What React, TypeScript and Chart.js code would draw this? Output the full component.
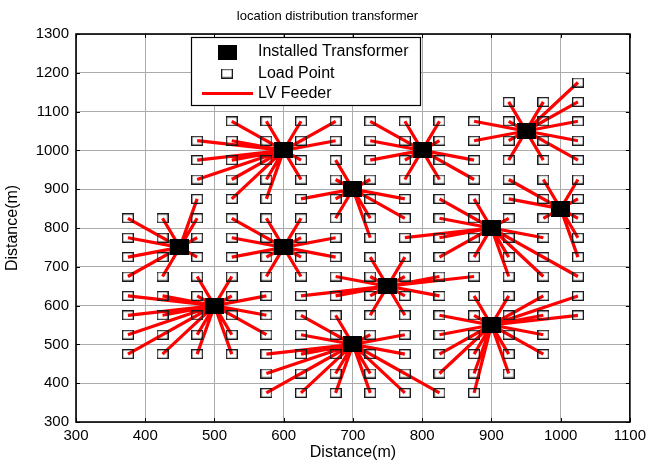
import React, { useEffect, useRef } from 'react';
import { Chart, registerables } from 'chart.js';

Chart.register(...registerables);

const TITLE = 'location distribution transformer';
const X_LABEL = 'Distance(m)';
const Y_LABEL = 'Distance(m)';
const X_TICKS = [300, 400, 500, 600, 700, 800, 900, 1000, 1100];
const Y_TICKS = [300, 400, 500, 600, 700, 800, 900, 1000, 1100, 1200, 1300];
const LEGEND_LABELS = ['Installed Transformer', 'Load Point', 'LV Feeder'];

const transformerX = [450, 500, 600, 600, 700, 700, 750, 800, 900, 900, 950, 1000];
const transformerY = [750, 600, 1000, 750, 900, 500, 650, 1000, 800, 550, 1050, 850];

// load points fed by each transformer (same order as transformerX / transformerY)
const loadsT1 = [[475, 875], [375, 825], [425, 825], [475, 825], [375, 775], [425, 775], [475, 775], [375, 725], [425, 725], [475, 725], [375, 675], [425, 675]];
const loadsT2 = [[475, 675], [525, 675], [375, 625], [425, 625], [475, 625], [525, 625], [575, 625], [375, 575], [425, 575], [475, 575], [525, 575], [575, 575], [375, 525], [425, 525], [475, 525], [525, 525], [575, 525], [375, 475], [425, 475], [475, 475], [525, 475]];
const loadsT3 = [[525, 1075], [575, 1075], [625, 1075], [675, 1075], [475, 1025], [525, 1025], [575, 1025], [625, 1025], [675, 1025], [475, 975], [525, 975], [575, 975], [625, 975], [475, 925], [525, 925], [575, 925], [625, 925], [525, 875], [575, 875]];
const loadsT4 = [[525, 825], [575, 825], [625, 825], [525, 775], [575, 775], [625, 775], [675, 775], [525, 725], [575, 725], [625, 725], [675, 725], [575, 675], [625, 675]];
const loadsT5 = [[675, 975], [675, 925], [725, 925], [625, 875], [675, 875], [725, 875], [775, 875], [675, 825], [725, 825], [775, 825], [725, 775]];
const loadsT6 = [[625, 575], [675, 575], [625, 525], [675, 525], [725, 525], [775, 525], [575, 475], [625, 475], [675, 475], [725, 475], [775, 475], [575, 425], [625, 425], [675, 425], [725, 425], [775, 425], [575, 375], [625, 375], [675, 375], [725, 375], [775, 375], [825, 375]];
const loadsT7 = [[725, 725], [775, 725], [675, 675], [725, 675], [775, 675], [825, 675], [875, 675], [625, 625], [675, 625], [725, 625], [775, 625], [825, 625], [725, 575], [775, 575]];
const loadsT8 = [[725, 1075], [775, 1075], [825, 1075], [725, 1025], [775, 1025], [825, 1025], [725, 975], [775, 975], [825, 975], [875, 975], [775, 925], [825, 925], [875, 925]];
const loadsT9 = [[825, 875], [875, 875], [825, 825], [875, 825], [925, 825], [775, 775], [825, 775], [875, 775], [925, 775], [975, 775], [825, 725], [875, 725], [925, 725], [975, 725], [925, 675], [975, 675], [1025, 675]];
const loadsT10 = [[875, 625], [925, 625], [975, 625], [1025, 625], [825, 575], [875, 575], [925, 575], [975, 575], [1025, 575], [825, 525], [875, 525], [925, 525], [975, 525], [825, 475], [875, 475], [925, 475], [975, 475], [825, 425], [875, 425], [925, 425], [875, 375]];
const loadsT11 = [[1025, 1175], [925, 1125], [975, 1125], [1025, 1125], [875, 1075], [925, 1075], [975, 1075], [1025, 1075], [875, 1025], [925, 1025], [975, 1025], [1025, 1025], [925, 975], [975, 975], [1025, 975]];
const loadsT12 = [[925, 925], [975, 925], [1025, 925], [925, 875], [975, 875], [1025, 875], [975, 825], [1025, 825], [1025, 775], [1025, 725]];

const FEEDERS = [loadsT1, loadsT2, loadsT3, loadsT4, loadsT5, loadsT6, loadsT7, loadsT8, loadsT9, loadsT10, loadsT11, loadsT12];

const FONT = "'Liberation Sans', Arial, Helvetica, sans-serif";
const RED = '#ff0000';

function makeTransformerMarker(w: number, h: number) {
  const c = document.createElement('canvas');
  c.width = w;
  c.height = h;
  const g = c.getContext('2d')!;
  g.fillStyle = '#000';
  g.fillRect(0, 0, w, h);
  return c;
}

function makeLoadMarker(w: number, h: number) {
  const c = document.createElement('canvas');
  c.width = w;
  c.height = h;
  const g = c.getContext('2d')!;
  g.strokeStyle = '#1a1a1a';
  g.lineWidth = 1.3;
  g.strokeRect(0.65, 0.65, w - 1.3, h - 1.3);
  return c;
}

export default function App() {
  const ref = useRef<HTMLCanvasElement | null>(null);

  useEffect(() => {
    if (!ref.current) return;
    const tMarker = makeTransformerMarker(19, 16);
    const lMarker = makeLoadMarker(12, 10);
    const legendTMarker = makeTransformerMarker(19, 15);

    const transformers = transformerX.map((x, i) => ({ x, y: transformerY[i] }));
    const loads = FEEDERS.flat().map(([x, y]) => ({ x, y }));

    const feederSets = FEEDERS.map((list, i) => {
      const data: { x: number; y: number }[] = [];
      list.forEach(([x, y]) => {
        data.push({ x: transformerX[i], y: transformerY[i] });
        data.push({ x, y });
      });
      return {
        label: 'LV Feeder ' + (i + 1),
        data,
        showLine: true,
        borderColor: RED,
        backgroundColor: RED,
        borderWidth: 3.2,
        pointRadius: 0,
        pointHoverRadius: 0,
        order: 2,
      };
    });

    const frame = {
      id: 'frame',
      afterDraw(chart: any) {
        const { ctx, chartArea: a, scales } = chart;
        ctx.save();
        // title (centred on the whole figure)
        ctx.fillStyle = '#000';
        ctx.font = `13px ${FONT}`;
        ctx.textAlign = 'center';
        ctx.textBaseline = 'middle';
        ctx.fillText(TITLE, 327.5, 16.5);

        ctx.strokeStyle = '#000';
        ctx.lineWidth = 1;
        const tl = 4;
        X_TICKS.forEach((v) => {
          const p = Math.round(scales.x.getPixelForValue(v)) + 0.5;
          ctx.beginPath();
          ctx.moveTo(p, a.bottom);
          ctx.lineTo(p, a.bottom - tl);
          ctx.moveTo(p, a.top);
          ctx.lineTo(p, a.top + tl);
          ctx.stroke();
        });
        Y_TICKS.forEach((v) => {
          const p = Math.round(scales.y.getPixelForValue(v)) + 0.5;
          ctx.beginPath();
          ctx.moveTo(a.left, p);
          ctx.lineTo(a.left + tl, p);
          ctx.moveTo(a.right, p);
          ctx.lineTo(a.right - tl, p);
          ctx.stroke();
        });
        ctx.lineWidth = 1.6;
        ctx.strokeRect(a.left, a.top, a.right - a.left, a.bottom - a.top);

        // legend
        const lx = 191.5, ly = 37.5, lw = 229, lh = 68;
        ctx.fillStyle = '#fff';
        ctx.fillRect(lx, ly, lw, lh);
        ctx.lineWidth = 1.2;
        ctx.strokeStyle = '#000';
        ctx.strokeRect(lx, ly, lw, lh);
        const rows = [52, 73.5, 93.5];
        ctx.drawImage(legendTMarker, 227 - 9.5, rows[0] - 7.5);
        ctx.drawImage(lMarker, 227 - 6, rows[1] - 5);
        ctx.strokeStyle = RED;
        ctx.lineWidth = 3.2;
        ctx.beginPath();
        ctx.moveTo(202, rows[2]);
        ctx.lineTo(253, rows[2]);
        ctx.stroke();
        ctx.fillStyle = '#000';
        ctx.font = `16px ${FONT}`;
        ctx.textAlign = 'left';
        ctx.textBaseline = 'middle';
        LEGEND_LABELS.forEach((t, i) => ctx.fillText(t, 258, rows[i]));
        ctx.restore();
      },
    };

    const chart = new Chart(ref.current, {
      type: 'scatter',
      data: {
        datasets: [
          {
            label: LEGEND_LABELS[0],
            data: transformers,
            pointStyle: tMarker as any,
            pointRadius: 10,
            pointHoverRadius: 10,
            order: 0,
          },
          {
            label: LEGEND_LABELS[1],
            data: loads,
            pointStyle: lMarker as any,
            pointRadius: 6,
            pointHoverRadius: 6,
            order: 1,
          },
          ...feederSets,
        ] as any,
      },
      options: {
        responsive: false,
        animation: false,
        events: [],
        layout: { padding: { left: 0, right: 19, top: 34, bottom: 0 } },
        plugins: {
          legend: { display: false },
          tooltip: { enabled: false },
          title: { display: false },
        },
        scales: {
          x: {
            type: 'linear',
            min: 300,
            max: 1100,
            afterFit: (s: any) => {
              s.height = 40;
            },
            afterBuildTicks: (s: any) => {
              s.ticks = X_TICKS.map((v) => ({ value: v }));
            },
            ticks: {
              color: '#000',
              font: { family: FONT, size: 15 },
              padding: 5,
              maxRotation: 0,
              autoSkip: false,
              callback: (v: any) => String(v),
            },
            grid: { color: '#ababab', lineWidth: 1, drawTicks: false },
            border: { display: false },
            title: {
              display: true,
              text: X_LABEL,
              color: '#000',
              font: { family: FONT, size: 16 },
              padding: { top: 0, bottom: 0 },
            },
          },
          y: {
            type: 'linear',
            min: 300,
            max: 1300,
            afterFit: (s: any) => {
              s.width = 76;
            },
            afterBuildTicks: (s: any) => {
              s.ticks = Y_TICKS.map((v) => ({ value: v }));
            },
            ticks: {
              color: '#000',
              font: { family: FONT, size: 15 },
              padding: 7,
              autoSkip: false,
              callback: (v: any) => String(v),
            },
            grid: { color: '#ababab', lineWidth: 1, drawTicks: false },
            border: { display: false },
            title: {
              display: true,
              text: Y_LABEL,
              color: '#000',
              font: { family: FONT, size: 16 },
              padding: { top: 3, bottom: 0 },
            },
          },
        },
      },
      plugins: [frame],
    });
    return () => chart.destroy();
  }, []);

  return (
    <div style={{ position: 'fixed', left: 0, top: 0, width: 651, height: 462, background: '#fff' }}>
      <canvas ref={ref} width={651} height={462} style={{ display: 'block' }} />
    </div>
  );
}
